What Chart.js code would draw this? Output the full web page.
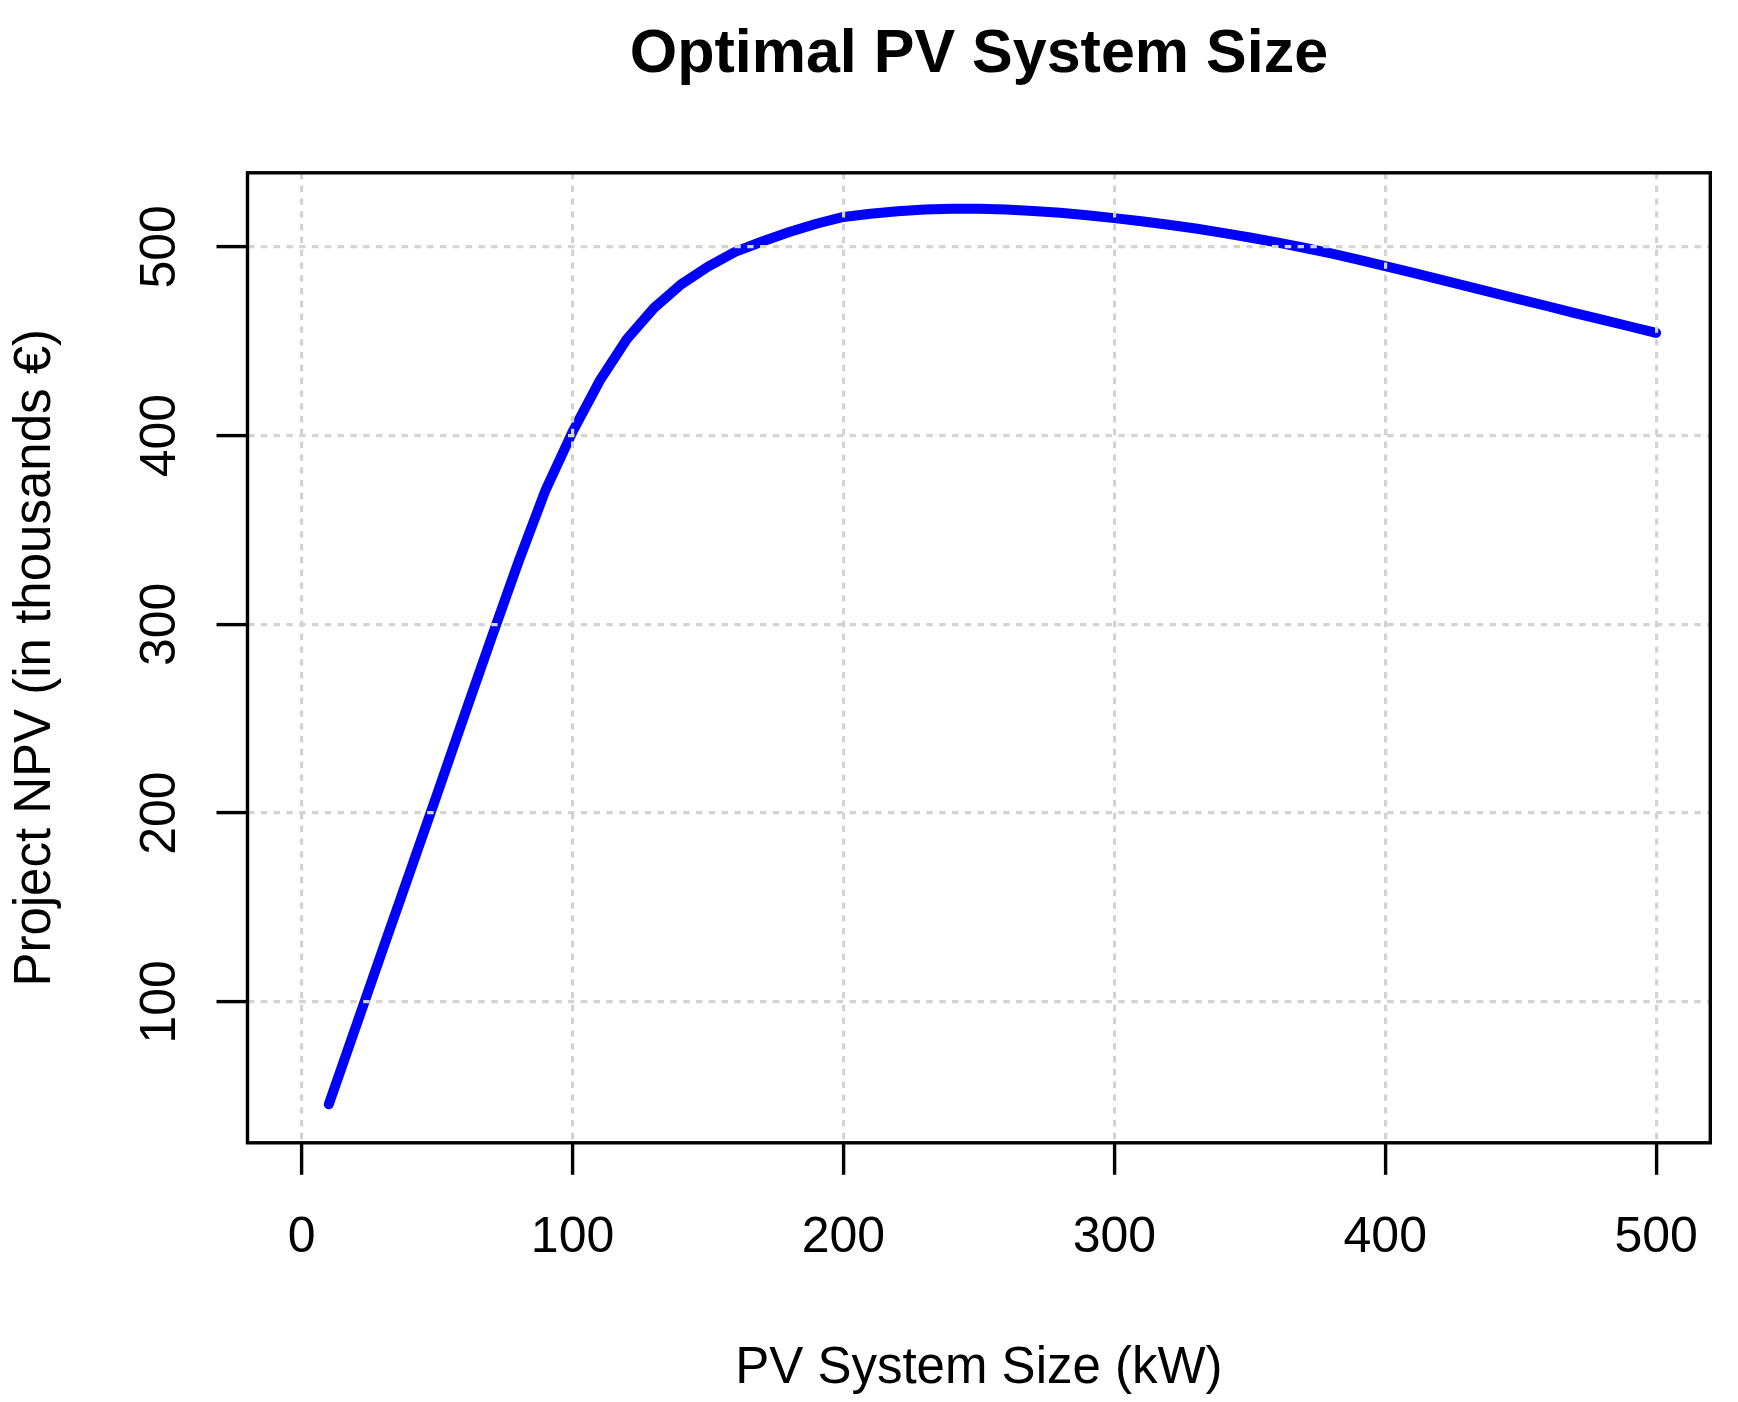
<!DOCTYPE html>
<html>
<head>
<meta charset="utf-8">
<script src="https://cdn.jsdelivr.net/npm/chart.js@4/dist/chart.umd.min.js"></script>
<style>
  html, body { margin: 0; padding: 0; background: #ffffff; }
  #wrap { width: 1738px; height: 1402px; }
</style>
</head>
<body>
<div id="wrap"><canvas id="c" width="1738" height="1402"></canvas></div>
<script>
// ---- data ----
const chartTitle = "Optimal PV System Size";
const xAxisTitle = "PV System Size (kW)";
const yAxisTitle = "Project NPV (in thousands €)";

const pvSizeKW = [10, 20, 30, 40, 50, 60, 70, 80, 90, 100,
                  110, 120, 130, 140, 150, 160, 170, 180, 190, 200,
                  210, 220, 230, 240, 250, 260, 270, 280, 290, 300,
                  310, 320, 330, 340, 350, 360, 370, 380, 390, 400,
                  410, 420, 430, 440, 450, 460, 470, 480, 490, 500];
const npvThousands = [45.7, 86.8, 128, 169, 210, 251.5, 292.5, 333, 371, 402,
                      429, 451, 467.5, 480, 489.5, 497.3, 502.8, 507.8, 512.2, 515.8,
                      517.5, 518.8, 519.7, 520.1, 520.1, 519.7, 519.0, 518.0, 516.7, 515.2,
                      513.5, 511.7, 509.7, 507.4, 504.9, 502.3, 499.5, 496.5, 493.2, 489.8,
                      486.3, 482.7, 479.2, 475.6, 472.0, 468.5, 464.9, 461.4, 457.9, 454.4];

const xTickValues = [0, 100, 200, 300, 400, 500];
const yTickValues = [100, 200, 300, 400, 500];

const xRange = [-20, 520];
const yRange = [25.3, 539.2];

// ---- styles ----
const FONT = "'Liberation Sans', Arial, Helvetica, sans-serif";
const TICK_SIZE = 50;
const LAB_SIZE = 51;
const TITLE_SIZE = 61;

const points = pvSizeKW.map((x, i) => ({ x: x, y: npvThousands[i] }));

const rDecor = {
  id: 'rDecor',
  afterDraw(chart) {
    const ctx = chart.ctx;
    const a = chart.chartArea;
    const ys = chart.scales.y;
    ctx.save();
    // box
    ctx.strokeStyle = '#000000';
    ctx.lineWidth = 3.4;
    ctx.lineJoin = 'miter';
    ctx.strokeRect(a.left, a.top, a.right - a.left, a.bottom - a.top);
    ctx.fillStyle = '#000000';
    // y tick labels (rotated, like R)
    ctx.font = TICK_SIZE + 'px ' + FONT;
    ctx.textAlign = 'center';
    ctx.textBaseline = 'alphabetic';
    ys.ticks.forEach(t => {
      const py = ys.getPixelForValue(t.value);
      ctx.save();
      ctx.translate(175, py);
      ctx.rotate(-Math.PI / 2);
      ctx.fillText(String(t.value), 0, 0);
      ctx.restore();
    });
    // axis titles
    ctx.font = LAB_SIZE + 'px ' + FONT;
    ctx.fillText(xAxisTitle, (a.left + a.right) / 2, 1383);
    ctx.save();
    ctx.translate(50, (a.top + a.bottom) / 2);
    ctx.rotate(-Math.PI / 2);
    ctx.fillText(yAxisTitle, 0, 0);
    ctx.restore();
    // main title
    ctx.font = 'bold ' + TITLE_SIZE + 'px ' + FONT;
    ctx.fillText(chartTitle, (a.left + a.right) / 2, 72);
    ctx.restore();
  }
};

new Chart(document.getElementById('c'), {
  type: 'line',
  data: {
    datasets: [{
      data: points,
      borderColor: '#0000FF',
      borderWidth: 10,
      borderCapStyle: 'round',
      borderJoinStyle: 'round',
      pointRadius: 0,
      tension: 0,
      fill: false
    }]
  },
  options: {
    responsive: false,
    animation: false,
    devicePixelRatio: 1,
    layout: { padding: { top: 172.8, right: 27.7, left: 0, bottom: 0 } },
    plugins: { legend: { display: false }, title: { display: false }, tooltip: { enabled: false } },
    scales: {
      x: {
        type: 'linear',
        min: xRange[0],
        max: xRange[1],
        afterBuildTicks: s => { s.ticks = xTickValues.map(v => ({ value: v })); },
        afterFit: s => { s.height = 1402 - 1142.8; },
        grid: {
          z: 1,
          color: '#D3D3D3',
          lineWidth: 3.2,
          drawTicks: true,
          tickLength: 32,
          tickColor: '#000000',
          tickWidth: 3.4
        },
        border: { display: false, dash: [6.4, 6.4] },
        ticks: {
          color: '#000000',
          font: { family: FONT, size: TICK_SIZE, lineHeight: 1.2 },
          padding: 33,
          maxRotation: 0,
          autoSkip: false,
          callback: v => String(v)
        }
      },
      y: {
        type: 'linear',
        min: yRange[0],
        max: yRange[1],
        afterBuildTicks: s => { s.ticks = yTickValues.map(v => ({ value: v })); },
        afterFit: s => { s.width = 247.5; },
        grid: {
          z: 1,
          color: '#D3D3D3',
          lineWidth: 3.2,
          drawTicks: true,
          tickLength: 31,
          tickColor: '#000000',
          tickWidth: 3.4
        },
        border: { display: false, dash: [6.4, 6.4] },
        ticks: { display: false }
      }
    }
  },
  plugins: [rDecor]
});
</script>
</body>
</html>
